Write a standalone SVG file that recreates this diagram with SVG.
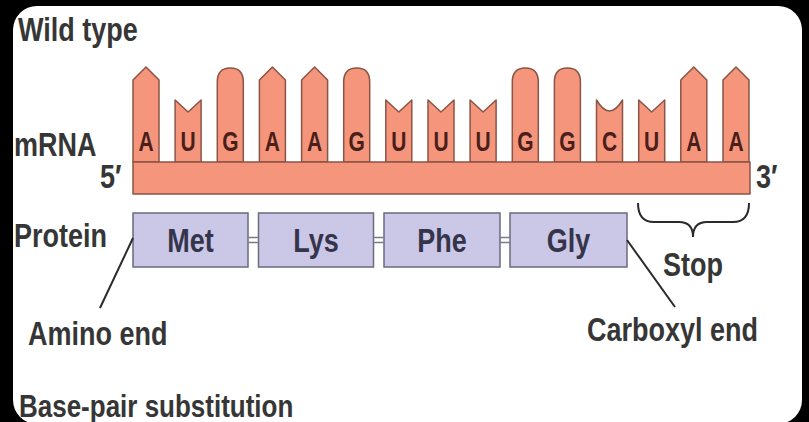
<svg xmlns="http://www.w3.org/2000/svg" xmlns:xlink="http://www.w3.org/1999/xlink" width="809" height="422" viewBox="0 0 809 422">
<style>
.lbl{font-family:"Liberation Sans",Arial,sans-serif;font-weight:bold;font-size:27px;fill:#363636}
.nt{fill:#f5967c;stroke:#8a5446;stroke-width:1.5;stroke-linejoin:round}
.ntl{font-family:"Liberation Sans",Arial,sans-serif;font-weight:bold;font-size:21px;fill:#4a1e1a;text-anchor:middle}
.box{fill:#cbc7e7;stroke:#6b6a80;stroke-width:1.5}
.boxl{font-family:"Liberation Sans",Arial,sans-serif;font-weight:bold;font-size:27px;fill:#34344a;text-anchor:middle}
.ln{stroke:#2a2a2a;stroke-width:2;fill:none}
.bond{stroke:#7a7a88;stroke-width:1.5}
</style>
<defs>
<path id="shA" d="M0,162 V80 L13,67 L26,80 V162 Z"/>
<path id="shG" d="M0,162 V82 C0,72 5,68 13,68 C21,68 26,72 26,82 V162 Z"/>
<path id="shU" d="M0,162 V100 L13,112 L26,100 V162 Z"/>
<path id="shC" d="M0,162 V100 Q13,122 26,100 V162 Z"/>
</defs>
<rect x="0" y="0" width="809" height="422" fill="#000"/>
<rect x="13" y="6" width="789" height="418" rx="24" fill="#fff"/>

<g id="title"><text class="lbl" transform="translate(18,41) scale(1,1.2)">Wild type</text></g>
<g id="mrna-label"><text class="lbl" transform="translate(14,156) scale(1,1.2)">mRNA</text></g>
<g id="five-prime"><text class="lbl" transform="translate(100,188) scale(1,1.2)">5′</text></g>
<g id="three-prime"><text class="lbl" transform="translate(756,188) scale(1,1.2)">3′</text></g>
<g id="protein-label"><text class="lbl" transform="translate(14,247) scale(1,1.2)">Protein</text></g>

<g id="nt1"><use xlink:href="#shA" class="nt" x="133"/><text class="ntl" transform="translate(146,151) scale(1,1.35)">A</text></g>
<g id="nt2"><use xlink:href="#shU" class="nt" x="175.1"/><text class="ntl" transform="translate(188.1,151) scale(1,1.35)">U</text></g>
<g id="nt3"><use xlink:href="#shG" class="nt" x="217.3"/><text class="ntl" transform="translate(230.3,151) scale(1,1.35)">G</text></g>
<g id="nt4"><use xlink:href="#shA" class="nt" x="259.4"/><text class="ntl" transform="translate(272.4,151) scale(1,1.35)">A</text></g>
<g id="nt5"><use xlink:href="#shA" class="nt" x="301.6"/><text class="ntl" transform="translate(314.6,151) scale(1,1.35)">A</text></g>
<g id="nt6"><use xlink:href="#shG" class="nt" x="343.7"/><text class="ntl" transform="translate(356.7,151) scale(1,1.35)">G</text></g>
<g id="nt7"><use xlink:href="#shU" class="nt" x="385.8"/><text class="ntl" transform="translate(398.8,151) scale(1,1.35)">U</text></g>
<g id="nt8"><use xlink:href="#shU" class="nt" x="428"/><text class="ntl" transform="translate(441,151) scale(1,1.35)">U</text></g>
<g id="nt9"><use xlink:href="#shU" class="nt" x="470.1"/><text class="ntl" transform="translate(483.1,151) scale(1,1.35)">U</text></g>
<g id="nt10"><use xlink:href="#shG" class="nt" x="512.3"/><text class="ntl" transform="translate(525.3,151) scale(1,1.35)">G</text></g>
<g id="nt11"><use xlink:href="#shG" class="nt" x="554.4"/><text class="ntl" transform="translate(567.4,151) scale(1,1.35)">G</text></g>
<g id="nt12"><use xlink:href="#shC" class="nt" x="596.5"/><text class="ntl" transform="translate(609.5,151) scale(1,1.35)">C</text></g>
<g id="nt13"><use xlink:href="#shU" class="nt" x="638.7"/><text class="ntl" transform="translate(651.7,151) scale(1,1.35)">U</text></g>
<g id="nt14"><use xlink:href="#shA" class="nt" x="680.8"/><text class="ntl" transform="translate(693.8,151) scale(1,1.35)">A</text></g>
<g id="nt15"><use xlink:href="#shA" class="nt" x="723"/><text class="ntl" transform="translate(736,151) scale(1,1.35)">A</text></g>

<g id="backbone"><rect class="nt" x="133" y="162" width="617" height="32"/></g>

<g id="met"><rect class="box" x="133" y="213" width="115" height="54"/><text class="boxl" transform="translate(190.5,252) scale(1,1.2)">Met</text></g>
<g id="lys"><rect class="box" x="258.5" y="213" width="115" height="54"/><text class="boxl" transform="translate(316,252) scale(1,1.2)">Lys</text></g>
<g id="phe"><rect class="box" x="384" y="213" width="116" height="54"/><text class="boxl" transform="translate(442,252) scale(1,1.2)">Phe</text></g>
<g id="gly"><rect class="box" x="510" y="213" width="117" height="54"/><text class="boxl" transform="translate(568.5,252) scale(1,1.2)">Gly</text></g>

<g id="stop"><text class="lbl" transform="translate(663,276) scale(1,1.2)">Stop</text></g>
<g id="amino-end"><text class="lbl" transform="translate(28,345) scale(1,1.2)">Amino end</text></g>
<g id="carboxyl-end"><text class="lbl" transform="translate(587,341) scale(1,1.2)">Carboxyl end</text></g>
<g id="subtitle"><text class="lbl" style="font-size:26px" transform="translate(19,417) scale(1,1.2)">Base-pair substitution</text></g>

<g id="connectors">
<line class="bond" x1="248" y1="237.5" x2="258.5" y2="237.5"/><line class="bond" x1="248" y1="242.5" x2="258.5" y2="242.5"/>
<line class="bond" x1="373.5" y1="237.5" x2="384" y2="237.5"/><line class="bond" x1="373.5" y1="242.5" x2="384" y2="242.5"/>
<line class="bond" x1="500" y1="237.5" x2="510" y2="237.5"/><line class="bond" x1="500" y1="242.5" x2="510" y2="242.5"/>
<line class="ln" x1="133" y1="238" x2="100" y2="308"/>
<line class="ln" x1="627" y1="240" x2="675" y2="307"/>
<path class="ln" d="M638,203 Q638,222 654,222 L679,222 Q693,222 693,237 Q693,222 707,222 L733,222 Q749,222 749,203"/>
</g>
</svg>
